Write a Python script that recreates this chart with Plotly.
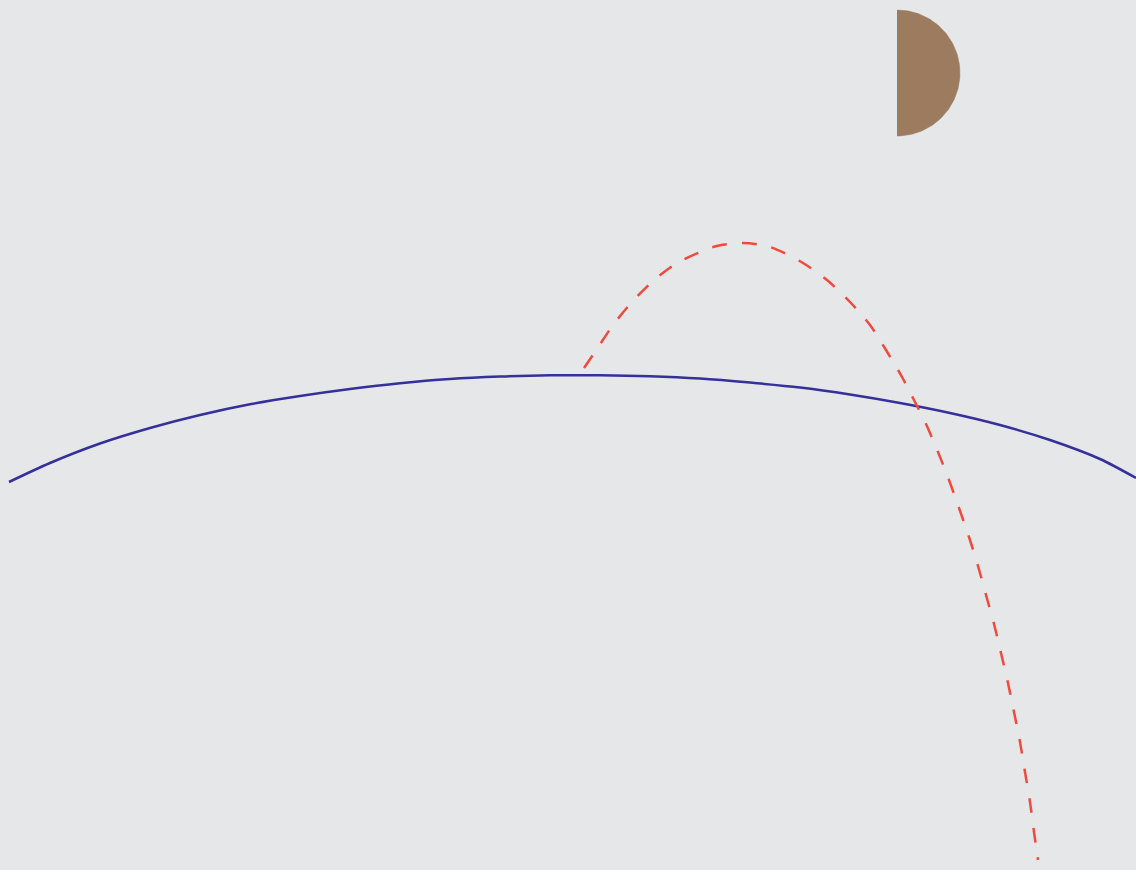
import numpy as np
import plotly.graph_objects as go

# Planet surface (blue arc) (pixel-like units, y downward)
surface_x = [9, 50, 100, 150, 200, 250, 300, 350, 400, 450, 500, 550,
             600, 650, 700, 750, 800, 850, 900, 950, 1000, 1050, 1100, 1136]
surface_y = [482, 463, 443.5, 428, 415, 404.3, 396, 389, 383.2, 379, 376.6, 375.3,
             375.3, 376.3, 378.6, 382.6, 387.5, 394.5, 403, 413, 425, 440, 459, 478]

# Trajectory (red dashed)
traj_x = [584, 597, 613, 632, 653, 677, 705, 717, 743, 770, 803, 827, 850, 870,
          886, 902, 915, 926, 938, 949, 959, 969, 978, 986, 994, 1001, 1008,
          1014, 1020, 1025, 1030, 1034, 1038]
traj_y = [368, 349, 325, 302, 281, 263, 250, 246, 243, 247, 263, 280, 302, 325,
          350, 377, 402, 424, 452, 480, 508, 537, 566, 595, 624, 653, 683,
          712, 742, 772, 802, 832, 860]

# Moon (right half disc)
moon_cx = 897
moon_cy = 73
moon_r = 63

theta = np.linspace(-np.pi / 2, np.pi / 2, 121)
moon_x = moon_cx + moon_r * np.cos(theta)
moon_y = moon_cy + moon_r * np.sin(theta)

BG = "#e5e7e9"

fig = go.Figure()
fig.add_trace(go.Scatter(x=surface_x, y=surface_y, mode="lines",
                         line=dict(color="#35309a", width=2.5, shape="spline", smoothing=0.8),
                         hoverinfo="skip", showlegend=False))
fig.add_trace(go.Scatter(x=traj_x, y=traj_y, mode="lines",
                         line=dict(color="#f04a3e", width=2.5, dash="longdash",
                                   shape="spline", smoothing=0.8),
                         hoverinfo="skip", showlegend=False))
fig.add_trace(go.Scatter(x=moon_x, y=moon_y, mode="lines", fill="toself",
                         fillcolor="#9c7b5f", line=dict(color="#9c7b5f", width=0.5),
                         hoverinfo="skip", showlegend=False))

fig.update_layout(
    width=1136, height=870,
    margin=dict(l=0, r=0, t=0, b=0),
    paper_bgcolor=BG, plot_bgcolor=BG,
    xaxis=dict(range=[0, 1136], visible=False, fixedrange=True),
    yaxis=dict(range=[870, 0], visible=False, fixedrange=True),
)
fig.write_html(
    "out.html",
    config={"displayModeBar": False},
    post_script="document.body.style.margin='0';document.body.style.overflow='hidden';"
                "document.body.style.background='" + BG + "';",
)
